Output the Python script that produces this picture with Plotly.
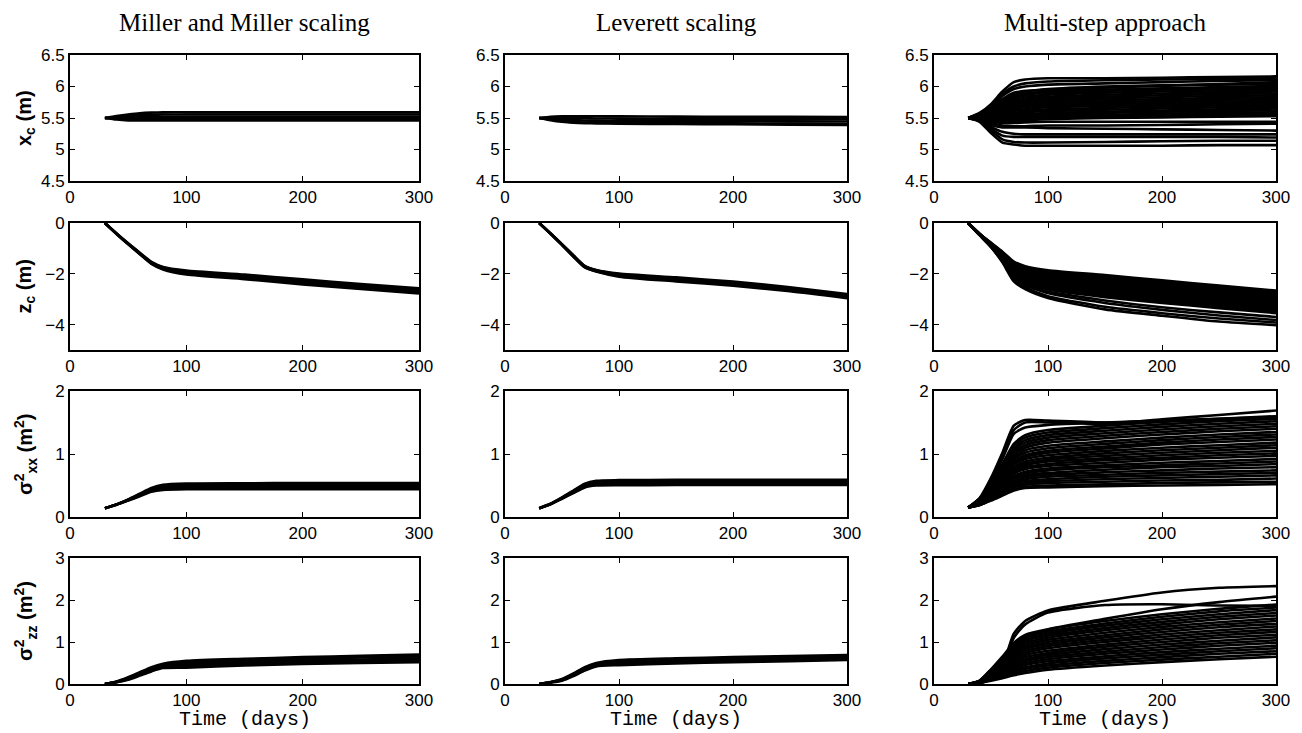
import plotly.graph_objects as go

# ---------------- data ----------------
TIME_DAYS = [30, 40, 50, 60, 70, 80, 100, 150, 200, 250, 300]

COLUMN_TITLES = ["Miller and Miller scaling", "Leverett scaling", "Multi-step approach"]
ROW_LABELS = [
    "<b>x<sub>c</sub> (m)</b>",
    "<b>z<sub>c</sub> (m)</b>",
    "<b>σ<sup>2</sup><sub>xx</sub> (m<sup>2</sup>)</b>",
    "<b>σ<sup>2</sup><sub>zz</sub> (m<sup>2</sup>)</b>",
]
X_TITLE = "Time (days)"
X_TICKS = [0, 100, 200, 300]
Y_RANGES = [[4.5, 6.5], [-5, 0], [0, 2], [0, 3]]
Y_TICKS = [[4.5, 5, 5.5, 6, 6.5], [-4, -2, 0], [0, 1, 2], [0, 1, 2, 3]]

# Row 1: centroid x_c (m)
MILLER_XC = [
    [5.5, 5.53, 5.555, 5.575, 5.585, 5.59, 5.59, 5.59, 5.59, 5.59, 5.59],
    [5.5, 5.515, 5.53, 5.545, 5.55, 5.555, 5.555, 5.555, 5.555, 5.555, 5.555],
    [5.5, 5.5, 5.505, 5.51, 5.515, 5.52, 5.52, 5.52, 5.52, 5.52, 5.52],
    [5.5, 5.49, 5.485, 5.485, 5.485, 5.487, 5.487, 5.487, 5.487, 5.487, 5.487],
    [5.5, 5.475, 5.462, 5.46, 5.46, 5.46, 5.46, 5.46, 5.46, 5.46, 5.46],
]
LEVERETT_XC = [
    [5.5, 5.52, 5.527, 5.528, 5.528, 5.527, 5.525, 5.522, 5.52, 5.518, 5.515],
    [5.5, 5.505, 5.5, 5.497, 5.495, 5.493, 5.49, 5.487, 5.485, 5.482, 5.48],
    [5.5, 5.49, 5.475, 5.465, 5.46, 5.458, 5.455, 5.452, 5.45, 5.447, 5.445],
    [5.5, 5.475, 5.45, 5.435, 5.428, 5.425, 5.422, 5.418, 5.415, 5.41, 5.405],
    [5.5, 5.465, 5.44, 5.425, 5.418, 5.415, 5.41, 5.405, 5.4, 5.395, 5.39],
]
MULTI_XC = [
    [5.5, 5.58, 5.72, 5.92, 6.07, 6.11, 6.13, 6.13, 6.14, 6.15, 6.16],
    [5.5, 5.57, 5.70, 5.88, 6.00, 6.05, 6.08, 6.10, 6.11, 6.12, 6.13],
    [5.5, 5.57, 5.68, 5.85, 5.96, 6.00, 6.03, 6.05, 6.07, 6.09, 6.10],
    [5.5, 5.56, 5.66, 5.80, 5.90, 5.93, 5.95, 5.98, 6.01, 6.04, 6.07],
    [5.5, 5.56, 5.65, 5.78, 5.88, 5.92, 5.96, 6.00, 6.02, 6.03, 6.04],
    [5.5, 5.55, 5.63, 5.75, 5.85, 5.89, 5.92, 5.95, 5.97, 5.99, 6.01],
    [5.5, 5.55, 5.62, 5.72, 5.82, 5.87, 5.90, 5.93, 5.95, 5.97, 5.98],
    [5.5, 5.54, 5.61, 5.70, 5.79, 5.84, 5.87, 5.90, 5.92, 5.94, 5.95],
    [5.5, 5.54, 5.60, 5.68, 5.76, 5.81, 5.84, 5.87, 5.89, 5.91, 5.92],
    [5.5, 5.53, 5.59, 5.66, 5.74, 5.78, 5.81, 5.84, 5.86, 5.88, 5.89],
    [5.5, 5.53, 5.58, 5.64, 5.71, 5.75, 5.78, 5.81, 5.83, 5.85, 5.86],
    [5.5, 5.53, 5.57, 5.62, 5.68, 5.72, 5.75, 5.78, 5.80, 5.82, 5.83],
    [5.5, 5.52, 5.56, 5.60, 5.66, 5.70, 5.72, 5.75, 5.77, 5.79, 5.80],
    [5.5, 5.52, 5.55, 5.58, 5.63, 5.67, 5.70, 5.72, 5.74, 5.76, 5.77],
    [5.5, 5.52, 5.54, 5.56, 5.61, 5.64, 5.67, 5.69, 5.71, 5.73, 5.74],
    [5.5, 5.51, 5.53, 5.55, 5.58, 5.61, 5.64, 5.66, 5.68, 5.70, 5.71],
    [5.5, 5.51, 5.52, 5.53, 5.56, 5.59, 5.61, 5.63, 5.65, 5.67, 5.68],
    [5.5, 5.51, 5.51, 5.52, 5.54, 5.56, 5.58, 5.60, 5.62, 5.64, 5.65],
    [5.5, 5.50, 5.50, 5.50, 5.52, 5.54, 5.56, 5.58, 5.60, 5.61, 5.62],
    [5.5, 5.50, 5.49, 5.49, 5.50, 5.51, 5.53, 5.55, 5.57, 5.58, 5.59],
    [5.5, 5.50, 5.48, 5.47, 5.48, 5.49, 5.51, 5.53, 5.54, 5.55, 5.56],
    [5.5, 5.49, 5.47, 5.45, 5.45, 5.46, 5.48, 5.50, 5.51, 5.52, 5.53],
    [5.5, 5.49, 5.45, 5.42, 5.42, 5.43, 5.44, 5.44, 5.44, 5.44, 5.44],
    [5.5, 5.48, 5.42, 5.38, 5.37, 5.37, 5.38, 5.38, 5.39, 5.40, 5.41],
    [5.5, 5.47, 5.39, 5.35, 5.35, 5.35, 5.34, 5.33, 5.32, 5.31, 5.30],
    [5.5, 5.47, 5.36, 5.28, 5.25, 5.24, 5.24, 5.24, 5.24, 5.24, 5.24],
    [5.5, 5.46, 5.33, 5.22, 5.20, 5.20, 5.20, 5.20, 5.20, 5.20, 5.19],
    [5.5, 5.45, 5.30, 5.16, 5.12, 5.11, 5.11, 5.12, 5.13, 5.14, 5.14],
    [5.5, 5.44, 5.26, 5.11, 5.08, 5.06, 5.06, 5.06, 5.06, 5.07, 5.07],
]

# Row 2: centroid z_c (m)
MILLER_ZC = [
    [0, -0.41, -0.80, -1.17, -1.53, -1.73, -1.87, -2.03, -2.22, -2.40, -2.57],
    [0, -0.415, -0.81, -1.185, -1.55, -1.755, -1.91, -2.075, -2.27, -2.45, -2.62],
    [0, -0.42, -0.82, -1.20, -1.57, -1.78, -1.95, -2.12, -2.32, -2.50, -2.67],
    [0, -0.425, -0.83, -1.215, -1.59, -1.805, -1.99, -2.165, -2.37, -2.55, -2.72],
    [0, -0.43, -0.84, -1.23, -1.61, -1.83, -2.03, -2.21, -2.42, -2.60, -2.77],
]
LEVERETT_ZC = [
    [0, -0.41, -0.83, -1.27, -1.69, -1.85, -1.99, -2.14, -2.31, -2.53, -2.80],
    [0, -0.415, -0.84, -1.285, -1.705, -1.865, -2.02, -2.18, -2.35, -2.57, -2.84],
    [0, -0.42, -0.85, -1.30, -1.72, -1.88, -2.05, -2.22, -2.39, -2.61, -2.88],
    [0, -0.425, -0.86, -1.315, -1.735, -1.895, -2.08, -2.26, -2.43, -2.65, -2.92],
    [0, -0.43, -0.87, -1.33, -1.75, -1.91, -2.11, -2.30, -2.47, -2.69, -2.96],
]
MULTI_ZC = [
    [0, -0.42, -0.78, -1.13, -1.52, -1.70, -1.86, -2.05, -2.26, -2.46, -2.66],
    [0, -0.42, -0.79, -1.15, -1.55, -1.74, -1.91, -2.11, -2.32, -2.52, -2.72],
    [0, -0.43, -0.80, -1.17, -1.59, -1.79, -1.96, -2.17, -2.38, -2.58, -2.78],
    [0, -0.43, -0.81, -1.19, -1.62, -1.83, -2.01, -2.23, -2.44, -2.64, -2.84],
    [0, -0.43, -0.82, -1.22, -1.66, -1.88, -2.06, -2.29, -2.50, -2.70, -2.90],
    [0, -0.44, -0.83, -1.24, -1.69, -1.92, -2.11, -2.34, -2.56, -2.76, -2.96],
    [0, -0.44, -0.84, -1.26, -1.73, -1.96, -2.16, -2.40, -2.62, -2.82, -3.02],
    [0, -0.44, -0.85, -1.28, -1.76, -2.01, -2.21, -2.46, -2.68, -2.88, -3.08],
    [0, -0.45, -0.86, -1.30, -1.80, -2.05, -2.27, -2.52, -2.74, -2.94, -3.14],
    [0, -0.45, -0.87, -1.32, -1.84, -2.09, -2.32, -2.58, -2.80, -3.00, -3.20],
    [0, -0.45, -0.88, -1.34, -1.87, -2.14, -2.37, -2.63, -2.86, -3.06, -3.26],
    [0, -0.46, -0.89, -1.37, -1.91, -2.18, -2.42, -2.69, -2.92, -3.12, -3.32],
    [0, -0.46, -0.90, -1.39, -1.94, -2.22, -2.47, -2.75, -2.98, -3.18, -3.38],
    [0, -0.46, -0.90, -1.41, -1.98, -2.27, -2.52, -2.81, -3.04, -3.24, -3.44],
    [0, -0.47, -0.91, -1.43, -2.01, -2.31, -2.57, -2.86, -3.09, -3.29, -3.49],
    [0, -0.47, -0.92, -1.45, -2.05, -2.35, -2.62, -2.92, -3.15, -3.35, -3.55],
    [0, -0.47, -0.92, -1.46, -2.08, -2.40, -2.70, -3.05, -3.32, -3.52, -3.70],
    [0, -0.47, -0.93, -1.48, -2.12, -2.44, -2.76, -3.15, -3.42, -3.64, -3.82],
    [0, -0.48, -0.94, -1.52, -2.22, -2.53, -2.88, -3.30, -3.55, -3.76, -3.92],
    [0, -0.48, -0.95, -1.55, -2.30, -2.60, -2.95, -3.40, -3.65, -3.88, -4.02],
]

# Row 3: second moment sigma^2_xx (m^2)
MILLER_SXX = [
    [0.14, 0.20, 0.28, 0.37, 0.46, 0.51, 0.53, 0.535, 0.54, 0.54, 0.54],
    [0.14, 0.20, 0.275, 0.36, 0.445, 0.49, 0.505, 0.51, 0.515, 0.515, 0.515],
    [0.14, 0.20, 0.27, 0.35, 0.43, 0.47, 0.48, 0.485, 0.49, 0.49, 0.49],
    [0.14, 0.195, 0.265, 0.34, 0.415, 0.45, 0.46, 0.462, 0.465, 0.465, 0.465],
    [0.14, 0.195, 0.26, 0.33, 0.40, 0.43, 0.44, 0.44, 0.44, 0.44, 0.44],
]
LEVERETT_SXX = [
    [0.14, 0.21, 0.31, 0.42, 0.53, 0.575, 0.585, 0.59, 0.59, 0.59, 0.59],
    [0.14, 0.21, 0.305, 0.41, 0.515, 0.555, 0.565, 0.567, 0.568, 0.568, 0.568],
    [0.14, 0.205, 0.30, 0.40, 0.50, 0.54, 0.545, 0.547, 0.548, 0.548, 0.548],
    [0.14, 0.205, 0.295, 0.39, 0.485, 0.52, 0.525, 0.527, 0.528, 0.528, 0.528],
    [0.14, 0.20, 0.29, 0.38, 0.47, 0.50, 0.505, 0.507, 0.508, 0.508, 0.508],
]
MULTI_SXX = [
    [0.15, 0.30, 0.62, 1.02, 1.45, 1.54, 1.53, 1.50, 1.52, 1.54, 1.56],
    [0.15, 0.29, 0.58, 0.96, 1.38, 1.50, 1.50, 1.48, 1.55, 1.62, 1.69],
    [0.15, 0.28, 0.55, 0.92, 1.32, 1.42, 1.46, 1.50, 1.53, 1.56, 1.59],
    [0.15, 0.29, 0.55, 0.84, 1.16, 1.30, 1.38, 1.45, 1.51, 1.56, 1.60],
    [0.15, 0.28, 0.54, 0.82, 1.13, 1.26, 1.34, 1.41, 1.47, 1.52, 1.56],
    [0.15, 0.28, 0.52, 0.79, 1.09, 1.22, 1.30, 1.37, 1.43, 1.48, 1.52],
    [0.15, 0.27, 0.51, 0.77, 1.06, 1.18, 1.26, 1.33, 1.39, 1.44, 1.48],
    [0.15, 0.27, 0.50, 0.74, 1.02, 1.14, 1.22, 1.29, 1.35, 1.40, 1.44],
    [0.15, 0.26, 0.48, 0.72, 0.99, 1.10, 1.18, 1.25, 1.31, 1.36, 1.40],
    [0.15, 0.26, 0.47, 0.70, 0.95, 1.06, 1.13, 1.20, 1.26, 1.31, 1.35],
    [0.15, 0.25, 0.45, 0.67, 0.92, 1.02, 1.09, 1.16, 1.22, 1.27, 1.31],
    [0.15, 0.25, 0.44, 0.65, 0.88, 0.98, 1.05, 1.12, 1.18, 1.23, 1.27],
    [0.15, 0.25, 0.43, 0.63, 0.85, 0.95, 1.02, 1.09, 1.15, 1.19, 1.23],
    [0.15, 0.24, 0.42, 0.61, 0.83, 0.92, 0.98, 1.05, 1.10, 1.14, 1.18],
    [0.15, 0.24, 0.41, 0.59, 0.79, 0.88, 0.94, 1.01, 1.06, 1.10, 1.14],
    [0.15, 0.23, 0.40, 0.57, 0.77, 0.85, 0.91, 0.97, 1.02, 1.06, 1.10],
    [0.15, 0.23, 0.38, 0.55, 0.74, 0.82, 0.88, 0.93, 0.98, 1.02, 1.05],
    [0.15, 0.23, 0.37, 0.53, 0.71, 0.79, 0.84, 0.90, 0.94, 0.98, 1.01],
    [0.15, 0.22, 0.36, 0.52, 0.69, 0.76, 0.81, 0.86, 0.91, 0.94, 0.97],
    [0.15, 0.22, 0.35, 0.49, 0.65, 0.72, 0.77, 0.82, 0.86, 0.89, 0.92],
    [0.15, 0.21, 0.34, 0.47, 0.63, 0.69, 0.74, 0.79, 0.82, 0.85, 0.88],
    [0.15, 0.21, 0.33, 0.46, 0.60, 0.66, 0.70, 0.75, 0.79, 0.81, 0.84],
    [0.15, 0.21, 0.32, 0.44, 0.57, 0.63, 0.67, 0.71, 0.74, 0.77, 0.79],
    [0.15, 0.20, 0.31, 0.42, 0.55, 0.60, 0.64, 0.67, 0.70, 0.72, 0.74],
    [0.15, 0.20, 0.30, 0.40, 0.52, 0.57, 0.60, 0.64, 0.66, 0.68, 0.70],
    [0.15, 0.20, 0.29, 0.38, 0.49, 0.54, 0.57, 0.60, 0.62, 0.64, 0.66],
    [0.15, 0.19, 0.28, 0.37, 0.47, 0.51, 0.54, 0.56, 0.58, 0.59, 0.61],
    [0.15, 0.19, 0.27, 0.35, 0.44, 0.48, 0.50, 0.52, 0.54, 0.55, 0.56],
    [0.15, 0.19, 0.26, 0.34, 0.42, 0.46, 0.47, 0.49, 0.50, 0.51, 0.52],
]

# Row 4: second moment sigma^2_zz (m^2)
MILLER_SZZ = [
    [0, 0.06, 0.16, 0.28, 0.40, 0.48, 0.55, 0.60, 0.64, 0.67, 0.70],
    [0, 0.055, 0.145, 0.26, 0.375, 0.455, 0.51, 0.56, 0.60, 0.63, 0.655],
    [0, 0.05, 0.13, 0.24, 0.35, 0.43, 0.47, 0.52, 0.56, 0.585, 0.61],
    [0, 0.045, 0.115, 0.22, 0.325, 0.405, 0.43, 0.48, 0.52, 0.545, 0.565],
    [0, 0.04, 0.10, 0.20, 0.30, 0.38, 0.39, 0.44, 0.48, 0.50, 0.52],
]
LEVERETT_SZZ = [
    [0, 0.045, 0.12, 0.25, 0.40, 0.50, 0.57, 0.61, 0.64, 0.665, 0.69],
    [0, 0.042, 0.11, 0.235, 0.38, 0.48, 0.54, 0.58, 0.61, 0.635, 0.66],
    [0, 0.04, 0.10, 0.22, 0.36, 0.46, 0.51, 0.55, 0.58, 0.605, 0.63],
    [0, 0.038, 0.09, 0.205, 0.34, 0.44, 0.48, 0.52, 0.55, 0.575, 0.60],
    [0, 0.035, 0.08, 0.19, 0.32, 0.42, 0.45, 0.49, 0.52, 0.545, 0.57],
]
MULTI_SZZ = [
    [0, 0.05, 0.22, 0.45, 1.20, 1.50, 1.75, 1.98, 2.18, 2.29, 2.33],
    [0, 0.05, 0.22, 0.44, 1.10, 1.42, 1.70, 1.88, 1.90, 1.87, 1.86],
    [0, 0.05, 0.20, 0.42, 0.95, 1.10, 1.30, 1.55, 1.78, 1.95, 2.08],
    [0, 0.08, 0.35, 0.65, 0.98, 1.17, 1.30, 1.50, 1.66, 1.79, 1.89],
    [0, 0.077, 0.336, 0.623, 0.94, 1.12, 1.25, 1.44, 1.60, 1.73, 1.82],
    [0, 0.074, 0.32, 0.60, 0.90, 1.07, 1.20, 1.39, 1.54, 1.66, 1.76],
    [0, 0.07, 0.31, 0.57, 0.86, 1.03, 1.15, 1.33, 1.48, 1.60, 1.69],
    [0, 0.067, 0.29, 0.54, 0.82, 0.98, 1.10, 1.28, 1.42, 1.54, 1.63],
    [0, 0.064, 0.28, 0.52, 0.78, 0.93, 1.05, 1.22, 1.36, 1.47, 1.56],
    [0, 0.061, 0.26, 0.49, 0.74, 0.88, 1.00, 1.16, 1.30, 1.41, 1.50],
    [0, 0.058, 0.25, 0.46, 0.70, 0.84, 0.95, 1.11, 1.24, 1.35, 1.43],
    [0, 0.055, 0.24, 0.44, 0.66, 0.79, 0.90, 1.05, 1.18, 1.28, 1.37],
    [0, 0.052, 0.22, 0.41, 0.62, 0.74, 0.85, 1.00, 1.12, 1.22, 1.30],
    [0, 0.048, 0.21, 0.38, 0.57, 0.69, 0.79, 0.94, 1.06, 1.16, 1.24],
    [0, 0.045, 0.19, 0.35, 0.53, 0.64, 0.74, 0.89, 1.00, 1.10, 1.17],
    [0, 0.042, 0.18, 0.33, 0.49, 0.59, 0.69, 0.83, 0.94, 1.03, 1.11],
    [0, 0.039, 0.17, 0.30, 0.45, 0.55, 0.64, 0.77, 0.88, 0.97, 1.04],
    [0, 0.036, 0.15, 0.27, 0.41, 0.50, 0.59, 0.72, 0.82, 0.91, 0.98],
    [0, 0.033, 0.14, 0.25, 0.37, 0.45, 0.54, 0.66, 0.76, 0.84, 0.91],
    [0, 0.030, 0.12, 0.22, 0.33, 0.40, 0.49, 0.61, 0.70, 0.78, 0.85],
    [0, 0.026, 0.11, 0.19, 0.29, 0.36, 0.44, 0.55, 0.64, 0.72, 0.78],
    [0, 0.023, 0.09, 0.16, 0.25, 0.31, 0.39, 0.50, 0.58, 0.65, 0.72],
    [0, 0.020, 0.08, 0.14, 0.21, 0.26, 0.34, 0.44, 0.52, 0.59, 0.65],
]

PANELS = [
    [MILLER_XC, LEVERETT_XC, MULTI_XC],
    [MILLER_ZC, LEVERETT_ZC, MULTI_ZC],
    [MILLER_SXX, LEVERETT_SXX, MULTI_SXX],
    [MILLER_SZZ, LEVERETT_SZZ, MULTI_SZZ],
]

# ---------------- layout geometry (pixels in a 1302 x 733 page) ----------------
W, H = 1302, 733
COL_PX = [(70, 419), (505, 847), (934, 1276)]
ROW_PX = [(55, 181), (223, 350), (391, 517), (558, 684)]

SANS = "Liberation Sans, Arial, sans-serif"
SERIF = "Liberation Serif, Times New Roman, serif"
MONO = "Liberation Mono, Courier New, monospace"

fig = go.Figure()
layout = dict(
    width=W, height=H, autosize=False,
    margin=dict(l=0, r=0, t=0, b=0, pad=0, autoexpand=False),
    paper_bgcolor="white", plot_bgcolor="white",
    showlegend=False,
)

for r in range(4):
    for c in range(3):
        idx = r * 3 + c + 1
        xa = "x" if idx == 1 else f"x{idx}"
        ya = "y" if idx == 1 else f"y{idx}"
        band = c < 2
        for member in PANELS[r][c]:
            fig.add_trace(go.Scatter(
                x=TIME_DAYS, y=member, xaxis=xa, yaxis=ya, mode="lines",
                line=dict(color="black", width=2.6,
                          shape="spline", smoothing=0.6),
                hoverinfo="skip",
            ))
        x0, x1 = COL_PX[c]
        y0, y1 = ROW_PX[r]
        common = dict(
            showgrid=False, zeroline=False, showline=True, linecolor="black",
            linewidth=2, mirror="ticks", ticks="inside", ticklen=5,
            tickwidth=1, tickcolor="black", automargin=False,
            tickfont=dict(family=SANS, size=17, color="black"),
        )
        layout["xaxis" if idx == 1 else f"xaxis{idx}"] = dict(
            domain=[x0 / W, x1 / W], anchor=ya, range=[0, 300],
            tickmode="array", tickvals=X_TICKS, **common,
        )
        layout["yaxis" if idx == 1 else f"yaxis{idx}"] = dict(
            domain=[1 - y1 / H, 1 - y0 / H], anchor=xa, range=Y_RANGES[r],
            tickmode="array", tickvals=Y_TICKS[r], **common,
        )

annotations = []
for c in range(3):
    xc = (COL_PX[c][0] + COL_PX[c][1]) / 2 / W
    annotations.append(dict(
        text=COLUMN_TITLES[c], x=xc, y=1 - 22 / H, xref="paper", yref="paper",
        xanchor="center", yanchor="middle", showarrow=False,
        font=dict(family=SERIF, size=25, color="black"),
    ))
    annotations.append(dict(
        text=X_TITLE, x=xc, y=1 - 719 / H, xref="paper", yref="paper",
        xanchor="center", yanchor="middle", showarrow=False,
        font=dict(family=MONO, size=20, color="black"),
    ))
for r in range(4):
    yc = 1 - (ROW_PX[r][0] + ROW_PX[r][1]) / 2 / H
    annotations.append(dict(
        text=ROW_LABELS[r], x=25 / W, y=yc, xref="paper", yref="paper",
        xanchor="center", yanchor="middle", showarrow=False, textangle=-90,
        font=dict(family=SANS, size=20, color="black"),
    ))
layout["annotations"] = annotations

fig.update_layout(**layout)
fig.write_html("out.html")
